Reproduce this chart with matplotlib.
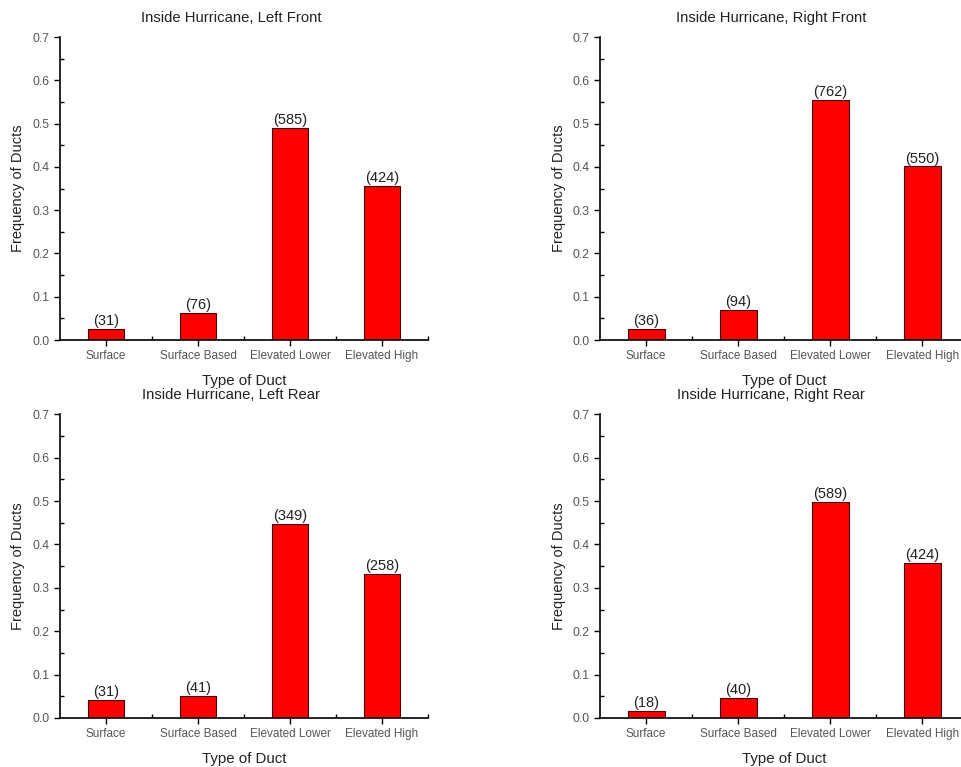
import matplotlib.pyplot as plt
from matplotlib.ticker import MultipleLocator, FixedLocator

plt.rcParams['font.family'] = ['Liberation Sans', 'DejaVu Sans']

# duct types and per-quadrant frequencies / counts
categories = ['Surface', 'Surface Based', 'Elevated Lower', 'Elevated High']
titles = ['Inside Hurricane, Left Front', 'Inside Hurricane, Right Front',
          'Inside Hurricane, Left Rear', 'Inside Hurricane, Right Rear']

left_front = [0.025, 0.063, 0.491, 0.355]
right_front = [0.025, 0.069, 0.554, 0.401]
left_rear = [0.041, 0.051, 0.447, 0.332]
right_rear = [0.016, 0.046, 0.498, 0.358]

left_front_n = [31, 76, 585, 424]
right_front_n = [36, 94, 762, 550]
left_rear_n = [31, 41, 349, 258]
right_rear_n = [18, 40, 589, 424]

freqs = [left_front, right_front, left_rear, right_rear]
counts = [left_front_n, right_front_n, left_rear_n, right_rear_n]

fig = plt.figure(figsize=(9.61, 7.67), dpi=100)
# axes boxes [left, bottom, width, height] in figure fraction
boxes = [[0.0624, 0.5567, 0.383, 0.395],
         [0.6245, 0.5567, 0.383, 0.395],
         [0.0624, 0.0639, 0.383, 0.396],
         [0.6245, 0.0639, 0.383, 0.396]]

tick_col = '#555555'
x = list(range(len(categories)))

for box, title, f, n in zip(boxes, titles, freqs, counts):
    ax = fig.add_axes(box)
    ax.bar(x, f, width=0.4, color='#ff0000', edgecolor='#400000', linewidth=0.8)
    for xi, fi, ni in zip(x, f, n):
        ax.text(xi, fi + 0.002, f'({ni})', ha='center', va='bottom', fontsize=10.5, color='#222222')
    ax.set_xlim(-0.5, 3.5)
    ax.set_ylim(0, 0.7)
    ax.set_xticks(x)
    ax.set_xticklabels(categories, fontsize=8.5, color=tick_col)
    ax.xaxis.set_minor_locator(FixedLocator([0.5, 1.5, 2.5, 3.5]))
    ax.yaxis.set_major_locator(MultipleLocator(0.1))
    ax.yaxis.set_minor_locator(MultipleLocator(0.05))
    ax.tick_params(axis='y', labelsize=8.8, labelcolor=tick_col)
    ax.tick_params(which='major', direction='out', length=4, width=1)
    ax.tick_params(which='minor', direction='in', length=3, width=1)
    for s in ['top', 'right']:
        ax.spines[s].set_visible(False)
    for s in ['left', 'bottom']:
        ax.spines[s].set_linewidth(1.2)
    ax.set_title(title, fontsize=10.7, color='#222222', pad=11, x=0.465)
    ax.set_xlabel('Type of Duct', fontsize=10.8, color='#222222', labelpad=8)
    ax.set_ylabel('Frequency of Ducts', fontsize=10.5, color='#222222', labelpad=5)

plt.savefig('out.png', dpi=100)
